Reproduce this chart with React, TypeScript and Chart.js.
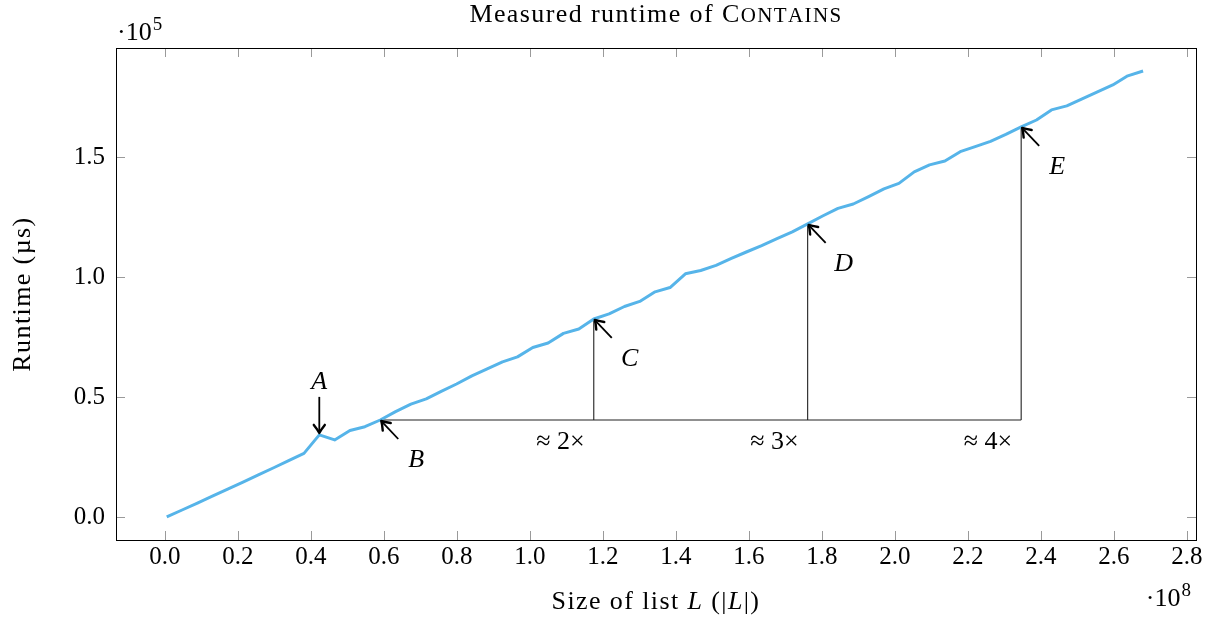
import React, { useEffect, useRef } from "react";
import { Chart, registerables } from "chart.js";

Chart.register(...registerables);

// List sizes (×10^8) and measured runtimes (×10^5 µs)
const listSizes = [
  0.005, 0.047, 0.089, 0.130, 0.172, 0.214, 0.256, 0.298, 0.339, 0.381,
  0.423, 0.465, 0.507, 0.548, 0.590, 0.632, 0.674, 0.716, 0.757, 0.799,
  0.841, 0.883, 0.925, 0.966, 1.008, 1.050, 1.092, 1.134, 1.175, 1.217,
  1.259, 1.301, 1.343, 1.384, 1.426, 1.468, 1.510, 1.552, 1.593, 1.635,
  1.677, 1.719, 1.761, 1.802, 1.844, 1.886, 1.928, 1.970, 2.011, 2.053,
  2.095, 2.137, 2.179, 2.220, 2.262, 2.304, 2.346, 2.388, 2.429, 2.471,
  2.513, 2.555, 2.597, 2.638, 2.680,
];
const runtimes = [
  0.000, 0.029, 0.058, 0.087, 0.116, 0.145, 0.175, 0.205, 0.235, 0.265,
  0.342, 0.321, 0.360, 0.376, 0.404, 0.439, 0.470, 0.492, 0.523, 0.554,
  0.588, 0.617, 0.646, 0.667, 0.706, 0.725, 0.765, 0.783, 0.825, 0.846,
  0.877, 0.898, 0.938, 0.956, 1.013, 1.027, 1.048, 1.077, 1.104, 1.131,
  1.160, 1.188, 1.221, 1.254, 1.286, 1.304, 1.335, 1.367, 1.390, 1.438,
  1.467, 1.483, 1.522, 1.543, 1.565, 1.594, 1.625, 1.654, 1.696, 1.713,
  1.742, 1.771, 1.800, 1.838, 1.858,
];

const xTicks = [0, 0.2, 0.4, 0.6, 0.8, 1.0, 1.2, 1.4, 1.6, 1.8, 2.0, 2.2, 2.4, 2.6, 2.8];
const yTicks = [0, 0.5, 1.0, 1.5];

const markLabels = ["A", "B", "C", "D", "E"];
const markIndices = [10, 14, 28, 42, 56];
const ratioLabels = ["≈ 2×", "≈ 3×", "≈ 4×"];

const titleMain = "Measured runtime of ";
const titleCapsFirst = "C";
const titleCapsRest = "ONTAINS";
const xLabelParts: [string, boolean][] = [["Size of list ", false], ["L", true], [" (|", false], ["L", true], ["|)", false]];
const yLabel = "Runtime (µs)";
const yExp = "5";
const xExp = "8";

const FONT = '"Liberation Serif", "Times New Roman", serif';
const LINE_COLOR = "#56B4E9";
const FS = 26;
const SP = 1.4;

function spacedWidth(ctx: CanvasRenderingContext2D, t: string) {
  let w = 0;
  for (const ch of t) w += ctx.measureText(ch).width + SP;
  return w;
}
function drawSpaced(ctx: CanvasRenderingContext2D, t: string, x: number, y: number) {
  let cx = x;
  for (const ch of t) {
    ctx.fillText(ch, cx, y);
    cx += ctx.measureText(ch).width + SP;
  }
  return cx - x;
}

function drawArrow(ctx: CanvasRenderingContext2D, x1: number, y1: number, x2: number, y2: number) {
  const ang = Math.atan2(y2 - y1, x2 - x1);
  ctx.save();
  ctx.strokeStyle = "#000";
  ctx.lineWidth = 1.8;
  ctx.beginPath();
  ctx.moveTo(x1, y1);
  ctx.lineTo(x2 - Math.cos(ang) * 1.5, y2 - Math.sin(ang) * 1.5);
  ctx.stroke();
  ctx.translate(x2, y2);
  ctx.rotate(ang);
  ctx.lineWidth = 2.4;
  ctx.lineCap = "round";
  ctx.lineJoin = "round";
  ctx.beginPath();
  ctx.moveTo(-8, -5.5);
  ctx.quadraticCurveTo(-3, -1.5, 0, 0);
  ctx.quadraticCurveTo(-3, 1.5, -8, 5.5);
  ctx.stroke();
  ctx.restore();
}

const overlay = {
  id: "overlay",
  beforeDatasetsDraw(chart: any) {
    const ctx: CanvasRenderingContext2D = chart.ctx;
    const xs = chart.scales.x;
    const ys = chart.scales.y;
    const a = chart.chartArea;
    ctx.save();
    // inward tick marks
    ctx.strokeStyle = "#9a9a9a";
    ctx.lineWidth = 1;
    const tl = 9;
    xTicks.forEach((v) => {
      const px = Math.round(xs.getPixelForValue(v)) + 0.5;
      ctx.beginPath();
      ctx.moveTo(px, a.bottom);
      ctx.lineTo(px, a.bottom - tl);
      ctx.moveTo(px, a.top);
      ctx.lineTo(px, a.top + tl);
      ctx.stroke();
    });
    yTicks.forEach((v) => {
      const py = Math.round(ys.getPixelForValue(v)) + 0.5;
      ctx.beginPath();
      ctx.moveTo(a.left, py);
      ctx.lineTo(a.left + tl, py);
      ctx.moveTo(a.right, py);
      ctx.lineTo(a.right - tl, py);
      ctx.stroke();
    });
    // annotation lines
    const bIdx = markIndices[1];
    const by = ys.getPixelForValue(runtimes[bIdx]);
    const bx = xs.getPixelForValue(listSizes[bIdx]);
    const lastIdx = markIndices[markIndices.length - 1];
    const ex = xs.getPixelForValue(listSizes[lastIdx]);
    ctx.strokeStyle = "#222";
    ctx.lineWidth = 1.1;
    ctx.beginPath();
    ctx.moveTo(bx, by);
    ctx.lineTo(ex, by);
    for (let k = 2; k < markIndices.length; k++) {
      const i = markIndices[k];
      const px = xs.getPixelForValue(listSizes[i]);
      ctx.moveTo(px, by);
      ctx.lineTo(px, ys.getPixelForValue(runtimes[i]));
    }
    ctx.stroke();
    // frame
    ctx.strokeStyle = "#000";
    ctx.lineWidth = 1;
    ctx.strokeRect(Math.round(a.left) + 0.5, Math.round(a.top) + 0.5, Math.round(a.right - a.left), Math.round(a.bottom - a.top));
    ctx.restore();
  },
  afterDatasetsDraw(chart: any) {
    const ctx: CanvasRenderingContext2D = chart.ctx;
    const xs = chart.scales.x;
    const ys = chart.scales.y;
    const a = chart.chartArea;
    ctx.save();
    ctx.fillStyle = "#000";
    // point markers with arrows
    markIndices.forEach((i, k) => {
      const px = xs.getPixelForValue(listSizes[i]);
      const py = ys.getPixelForValue(runtimes[i]);
      ctx.font = `italic ${FS}px ${FONT}`;
      ctx.textAlign = "center";
      ctx.textBaseline = "alphabetic";
      if (k === 0) {
        drawArrow(ctx, px, py - 38, px, py - 2);
        ctx.fillText(markLabels[k], px, py - 46);
      } else {
        drawArrow(ctx, px + 18, py + 19, px + 1, py + 1);
        ctx.fillText(markLabels[k], px + 36, py + 47);
      }
    });
    // ratio labels
    const by = ys.getPixelForValue(runtimes[markIndices[1]]);
    ctx.font = `${FS}px ${FONT}`;
    ctx.textAlign = "right";
    ctx.textBaseline = "alphabetic";
    ratioLabels.forEach((t, k) => {
      const px = xs.getPixelForValue(listSizes[markIndices[k + 2]]);
      ctx.fillText(t, px - 9, by + 29);
    });

    ctx.textAlign = "left";
    ctx.textBaseline = "alphabetic";

    // title with small caps
    const cx = (a.left + a.right) / 2;
    const capsFont = `${Math.round(FS * 0.8)}px ${FONT}`;
    ctx.font = `${FS}px ${FONT}`;
    const w1 = spacedWidth(ctx, titleMain);
    const w2 = spacedWidth(ctx, titleCapsFirst);
    ctx.font = capsFont;
    const w3 = spacedWidth(ctx, titleCapsRest);
    let tx = cx - (w1 + w2 + w3) / 2;
    ctx.font = `${FS}px ${FONT}`;
    tx += drawSpaced(ctx, titleMain, tx, 22);
    tx += drawSpaced(ctx, titleCapsFirst, tx, 22);
    ctx.font = capsFont;
    drawSpaced(ctx, titleCapsRest, tx, 22);

    // x axis label
    let total = 0;
    xLabelParts.forEach(([t, it]) => {
      ctx.font = `${it ? "italic " : ""}${FS}px ${FONT}`;
      total += spacedWidth(ctx, t);
    });
    let lx = cx - total / 2;
    xLabelParts.forEach(([t, it]) => {
      ctx.font = `${it ? "italic " : ""}${FS}px ${FONT}`;
      lx += drawSpaced(ctx, t, lx, 609);
    });

    // y axis label
    ctx.save();
    ctx.translate(30, (a.top + a.bottom) / 2);
    ctx.rotate(-Math.PI / 2);
    ctx.font = `${FS}px ${FONT}`;
    const wy = spacedWidth(ctx, yLabel);
    drawSpaced(ctx, yLabel, -wy / 2, 0);
    ctx.restore();

    // exponent labels
    const drawExp = (x: number, y: number, e: string, alignRight: boolean) => {
      ctx.font = `${FS}px ${FONT}`;
      const w = ctx.measureText("·10").width;
      ctx.font = `${Math.round(FS * 0.72)}px ${FONT}`;
      const we = ctx.measureText(e).width;
      const x0 = alignRight ? x - w - we - 1 : x;
      ctx.font = `${FS}px ${FONT}`;
      ctx.fillText("·10", x0, y);
      ctx.font = `${Math.round(FS * 0.72)}px ${FONT}`;
      ctx.fillText(e, x0 + w + 1, y - 10);
    };
    drawExp(a.left + 1, 40, yExp, false);
    drawExp(1191, 606, xExp, true);
    ctx.restore();
  },
};

export default function App() {
  const ref = useRef<HTMLCanvasElement | null>(null);
  useEffect(() => {
    if (!ref.current) return;
    const data = listSizes.map((x, i) => ({ x, y: runtimes[i] }));
    const chart = new Chart(ref.current, {
      type: "line",
      data: {
        datasets: [
          {
            data,
            borderColor: LINE_COLOR,
            borderWidth: 3,
            pointRadius: 0,
            tension: 0,
            fill: false,
            borderJoinStyle: "round",
          } as any,
        ],
      },
      options: {
        responsive: false,
        animation: false,
        events: [],
        layout: { padding: { top: 48, right: 13, left: 0, bottom: 0 } },
        plugins: { legend: { display: false }, tooltip: { enabled: false }, title: { display: false } },
        scales: {
          x: {
            type: "linear",
            min: -0.134,
            max: 2.825,
            afterBuildTicks: (s: any) => {
              s.ticks = xTicks.map((v) => ({ value: v }));
            },
            afterFit: (s: any) => {
              s.height = 77;
            },
            grid: { display: false, drawTicks: false },
            border: { display: false },
            ticks: {
              autoSkip: false,
              maxRotation: 0,
              padding: 2,
              color: "#000",
              font: { family: FONT, size: 25 },
              callback: (v: any) => Number(v).toFixed(1),
            },
          },
          y: {
            type: "linear",
            min: -0.096,
            max: 1.954,
            afterBuildTicks: (s: any) => {
              s.ticks = yTicks.map((v) => ({ value: v }));
            },
            afterFit: (s: any) => {
              s.width = 116;
            },
            grid: { display: false, drawTicks: false },
            border: { display: false },
            ticks: {
              padding: 11,
              color: "#000",
              font: { family: FONT, size: 25 },
              callback: (v: any) => Number(v).toFixed(1),
            },
          },
        },
      },
      plugins: [overlay],
    });
    return () => chart.destroy();
  }, []);
  return (
    <div style={{ position: "absolute", left: 0, top: 0, width: 1209, height: 617, background: "#fff" }}>
      <canvas ref={ref} width={1209} height={617} style={{ display: "block" }} />
    </div>
  );
}
